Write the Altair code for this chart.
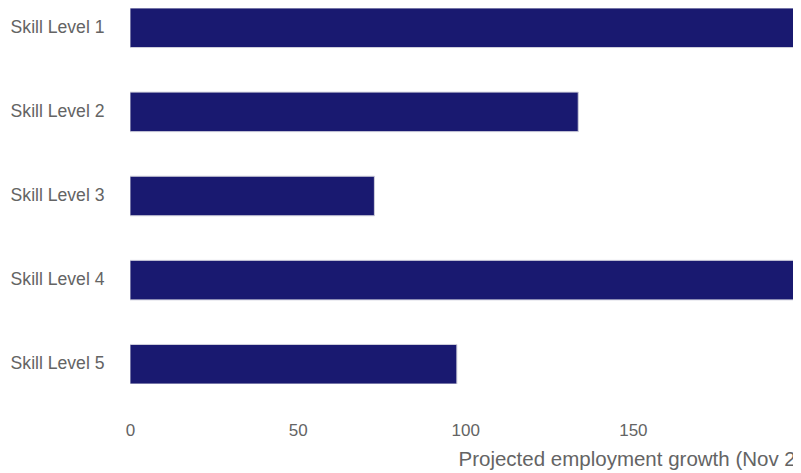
import altair as alt
import pandas as pd

levels = ["Skill Level 1", "Skill Level 2", "Skill Level 3", "Skill Level 4", "Skill Level 5"]
growth = [256.0, 133.7, 72.9, 228.0, 97.5]
x_ticks = [0, 50, 100, 150, 200]

df = pd.DataFrame({"level": levels, "growth": growth})

TEXT = "#646464"
FONT = "Liberation Sans"

chart = (
    alt.Chart(df)
    .mark_bar(color="#191970", stroke="#d0d0dc", strokeWidth=1, clip=True)
    .encode(
        y=alt.Y(
            "level:N",
            sort=levels,
            scale=alt.Scale(paddingInner=0.53, paddingOuter=0, align=0),
            axis=alt.Axis(
                title=None, domain=False, ticks=False, grid=False,
                labelPadding=26, labelFontSize=17.6, labelColor=TEXT, labelFont=FONT,
            ),
        ),
        x=alt.X(
            "growth:Q",
            scale=alt.Scale(domain=[0, 197.76], nice=False, zero=True),
            axis=alt.Axis(
                values=x_ticks, domain=False, ticks=False, grid=False,
                labelFlush=False, labelPadding=38.6, labelFontSize=17,
                labelColor=TEXT, labelFont=FONT,
                title="Projected employment growth (Nov 2021 to Nov 2026) ('000)",
                titleX=328, titleY=81, titleAlign="left", titleBaseline="alphabetic",
                titleFontSize=20.5, titleFontWeight="normal", titleColor=TEXT, titleFont=FONT,
            ),
        ),
    )
    .properties(
        width=663,
        height=376,
        autosize=alt.AutoSizeParams(type="none"),
        padding={"left": 122, "top": 0, "right": 0, "bottom": 89},
    )
    .configure_view(stroke=None)
)

chart.save("out.html", embed_options={"renderer": "svg", "actions": False})
